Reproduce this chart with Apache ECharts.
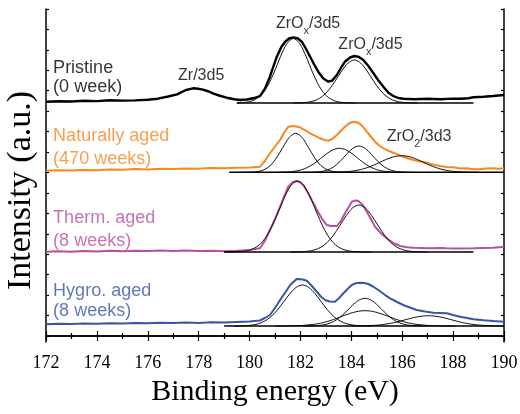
<!DOCTYPE html>
<html><head><meta charset="utf-8">
<script src="https://cdn.jsdelivr.net/npm/echarts@6/dist/echarts.min.js"></script>
<style>html,body{margin:0;padding:0;background:#fff}#c{width:520px;height:414px}</style>
</head><body><div id="c"></div>
<script>
// ---- X axis / Y ticks ----
const xMin = 172, xMax = 190, xStep = 2;
const yTicks = [0, 20.44, 40.88, 61.3, 81.8, 102.2, 122.6, 143.1, 163.5, 184, 204.4, 224.8, 245.3, 265.7, 286.2, 306.6, 327];

// ---- measured spectra [binding energy, intensity (a.u., stacked)] ----
const pristine = [[172.0,234.3],[172.5,234.8],[173.0,234.5],[173.5,235.2],[174.0,234.9],[174.5,235.8],[175.0,235.4],[175.5,235.6],[176.0,236.3],[176.4,237.3],[176.8,239.5],[177.15,241.7],[177.5,246],[177.78,247.7],[178.0,247.2],[178.17,246.3],[178.4,244.5],[178.56,242.7],[178.8,240.5],[179.1,238.3],[179.4,236.8],[179.62,236],[179.9,236.5],[180.14,237.7],[180.41,239.8],[180.6,247],[180.8,259.3],[181.07,279.3],[181.25,289],[181.4,294.3],[181.55,297.5],[181.72,298.7],[181.9,297.5],[182.05,294.3],[182.2,288],[182.38,279.3],[182.55,271],[182.7,264.3],[182.9,257.5],[183.1,254.3],[183.25,255.5],[183.43,261],[183.6,268.5],[183.75,274.3],[183.95,278.5],[184.12,280],[184.3,279],[184.47,276],[184.67,270],[184.87,262.7],[185.05,256],[185.26,249.3],[185.45,243.5],[185.65,240],[185.85,238],[186.04,237.3],[186.5,236.8],[187.0,237.2],[187.5,236.8],[188.0,237.4],[188.27,237.3],[188.6,237.8],[188.8,238.7],[189.2,239.2],[189.57,240],[190.0,241]];
const natural = [[172.0,165.3],[172.5,165.8],[173.0,165.4],[173.5,166.0],[174.0,165.7],[174.5,166.5],[175.0,166.2],[175.5,166.9],[176.0,166.6],[176.5,167.3],[177.0,167.0],[177.5,167.6],[178.0,167.3],[178.5,168.0],[179.0,167.7],[179.5,168.2],[180.0,168.6],[180.41,169.3],[180.6,175],[180.8,182.7],[181.0,189.5],[181.2,196],[181.35,203],[181.52,209.3],[181.72,210],[181.98,208.7],[182.2,205.5],[182.38,202.7],[182.6,199.8],[182.77,197.7],[182.95,196],[183.1,195.3],[183.25,197],[183.43,201],[183.6,205.5],[183.75,209.3],[183.9,212.5],[184.08,214.3],[184.28,213.3],[184.45,209.5],[184.61,204.3],[184.78,199],[184.93,194.3],[185.1,190.5],[185.26,187.7],[185.45,185.3],[185.65,183.3],[185.85,181.2],[186.04,179.3],[186.24,177.5],[186.44,176],[186.7,174.5],[186.96,173.3],[187.2,171.5],[187.49,170],[187.75,169],[188.01,168.7],[188.27,167.6],[188.54,167.7],[188.8,166.8],[189.06,166.7],[189.3,167.4],[189.58,167.7],[189.8,167.2],[190.0,167.7]];
const thermal = [[172.0,84.3],[172.5,84.8],[173.0,84.2],[173.5,85.0],[174.0,84.6],[174.5,85.2],[175.0,84.8],[175.5,85.3],[176.0,84.9],[176.5,85.5],[177.0,85.1],[177.5,85.4],[178.0,85.0],[178.5,85.3],[179.0,84.8],[179.5,85.2],[180.0,86],[180.41,87.7],[180.6,95],[180.8,106],[181.0,117],[181.2,129.3],[181.35,139],[181.52,149.3],[181.7,154],[181.85,155],[182.0,153.5],[182.11,151],[182.3,143],[182.51,132.7],[182.68,124.5],[182.84,117.7],[183.03,111],[183.2,110],[183.43,110],[183.6,115.5],[183.75,122.7],[183.9,129],[184.02,134.3],[184.15,135.5],[184.28,135],[184.45,131],[184.61,124.3],[184.78,116.5],[184.93,109.3],[185.15,103],[185.39,97.7],[185.65,93],[185.92,90],[186.2,88.8],[186.44,88.3],[187.0,87.8],[187.5,88.1],[187.75,87.7],[188.2,87.5],[188.8,87.7],[189.2,88.0],[189.58,88.3],[190.0,89.3]];
const hygro = [[172.0,11.7],[172.5,12.3],[173.0,11.9],[173.5,12.6],[174.0,12.2],[174.5,12.8],[175.0,12.4],[175.5,13.0],[176.0,12.7],[176.5,13.2],[177.0,12.9],[177.5,13.4],[178.0,13.1],[178.5,13.7],[179.0,13.5],[179.5,14.0],[180.0,14.5],[180.41,15.5],[180.6,18],[180.8,21],[181.0,28],[181.2,36],[181.4,43.5],[181.6,51],[181.85,57],[182.05,56.8],[182.25,55.3],[182.45,50],[182.64,44.3],[182.8,39.5],[182.97,36],[183.15,34.5],[183.36,34.3],[183.52,38],[183.69,42.7],[183.85,47],[184.02,51],[184.18,52.8],[184.34,53.3],[184.5,53],[184.67,52],[184.85,49.5],[185.06,46],[185.3,41.5],[185.52,37.7],[185.8,34],[186.04,31],[186.3,28.5],[186.57,26],[186.9,24.5],[187.22,23.3],[187.5,23],[187.75,22.7],[188.0,21],[188.27,19.3],[188.55,18],[188.8,16.7],[189.2,15.8],[189.58,15],[190.0,14.3]];

// ---- fit baselines: [start energy, end energy], level ----
const baseRange = [[179.5,188.8],[179.2,190],[179.0,188.8],[179.0,190]];
const baseLevel = [233, 163.7, 84, 10];

// ---- fitted components [energy, height above baseline] ----
const pC1 = [[179.5,0],[179.72,0.4],[179.97,1.2],[180.22,3.5],[180.47,8.5],[180.72,17.6],[180.97,31.0],[181.22,46.6],[181.47,59.5],[181.72,64.5],[181.97,59.5],[182.22,46.6],[182.47,31.0],[182.72,17.6],[182.97,8.5],[183.22,3.5],[183.47,1.2],[183.72,0.4],[184.2,0]];
const pC2 = [[181.7,0],[182.12,0.4],[182.37,1.1],[182.62,3.0],[182.87,6.8],[183.12,13.2],[183.37,22.1],[183.62,32.0],[183.87,39.9],[184.12,43],[184.37,39.9],[184.62,32.0],[184.87,22.1],[185.12,13.2],[185.37,6.8],[185.62,3.0],[185.87,1.1],[186.12,0.4],[186.6,0]];
const nC1 = [[179.6,0],[180.06,0.2],[180.31,0.7],[180.56,2.4],[180.81,6.6],[181.06,14.4],[181.31,25.0],[181.56,34.9],[181.81,39],[182.06,34.9],[182.31,25.0],[182.56,14.4],[182.81,6.6],[183.06,2.4],[183.31,0.7],[183.56,0.2],[184.0,0]];
const nC2 = [[181.1,0],[181.53,0.4],[181.78,1.1],[182.03,2.4],[182.28,4.9],[182.53,8.6],[182.78,13.5],[183.03,18.6],[183.28,22.5],[183.53,24],[183.78,22.5],[184.03,18.6],[184.28,13.5],[184.53,8.6],[184.78,4.9],[185.03,2.4],[185.28,1.1],[185.53,0.4],[186.0,0]];
const nC3 = [[182.1,0],[182.55,0.2],[182.8,0.7],[183.05,2.2],[183.3,5.3],[183.55,10.7],[183.8,17.6],[184.05,23.8],[184.3,26.3],[184.55,23.8],[184.8,17.6],[185.05,10.7],[185.3,5.3],[185.55,2.2],[185.8,0.7],[186.05,0.2],[186.5,0]];
const nC4 = [[183.0,0],[183.48,0.2],[183.98,1.0],[184.23,2.0],[184.48,3.5],[184.73,5.6],[184.98,8.3],[185.23,11.3],[185.48,14.0],[185.73,15.9],[185.98,16.6],[186.23,15.9],[186.48,14.0],[186.73,11.3],[186.98,8.3],[187.23,5.6],[187.48,3.5],[187.73,2.0],[187.98,1.0],[188.48,0.2],[189.0,0]];
const tC1 = [[179.0,0],[179.38,0.1],[179.63,0.4],[179.88,1.2],[180.13,3.1],[180.38,7.1],[180.63,14.4],[180.88,25.6],[181.13,40.0],[181.38,55.0],[181.63,66.6],[181.88,71],[182.13,66.6],[182.38,55.0],[182.63,40.0],[182.88,25.6],[183.13,14.4],[183.38,7.1],[183.63,3.1],[183.88,1.2],[184.13,0.4],[184.38,0.1],[184.8,0]];
const tC2 = [[181.6,0],[182.05,0.3],[182.3,0.8],[182.55,2.1],[182.8,4.7],[183.05,9.5],[183.3,16.9],[183.55,26.5],[183.8,36.4],[184.05,44.1],[184.3,47],[184.55,44.1],[184.8,36.4],[185.05,26.5],[185.3,16.9],[185.55,9.5],[185.8,4.7],[186.05,2.1],[186.3,0.8],[186.55,0.3],[187.0,0]];
const hC1 = [[179.4,0],[179.83,0.3],[180.08,0.9],[180.33,2.1],[180.58,4.7],[180.83,9.1],[181.08,15.6],[181.33,23.8],[181.58,32.2],[181.83,38.6],[182.08,41],[182.33,38.6],[182.58,32.2],[182.83,23.8],[183.08,15.6],[183.33,9.1],[183.58,4.7],[183.83,2.1],[184.08,0.9],[184.33,0.3],[184.8,0]];
const hC2 = [[182.1,0],[182.54,0.2],[182.79,0.7],[183.04,1.9],[183.29,4.3],[183.54,8.5],[183.79,14.2],[184.04,20.6],[184.29,25.7],[184.54,27.7],[184.79,25.7],[185.04,20.6],[185.29,14.2],[185.54,8.5],[185.79,4.3],[186.04,1.9],[186.29,0.7],[186.54,0.2],[187.0,0]];
const hC3 = [[181.0,0],[181.54,0.1],[182.04,0.5],[182.54,1.7],[182.79,2.8],[183.04,4.4],[183.29,6.4],[183.54,8.8],[183.79,11.2],[184.04,13.3],[184.29,14.8],[184.54,15.3],[184.79,14.8],[185.04,13.3],[185.29,11.2],[185.54,8.8],[185.79,6.4],[186.04,4.4],[186.29,2.8],[186.54,1.7],[187.04,0.5],[187.54,0.1],[188.1,0]];
const hC4 = [[184.0,0],[184.53,0.2],[185.03,0.9],[185.28,1.6],[185.53,2.6],[185.78,3.9],[186.03,5.6],[186.28,7.3],[186.53,8.8],[186.78,9.9],[187.03,10.3],[187.28,9.9],[187.53,8.8],[187.78,7.3],[188.03,5.6],[188.28,3.9],[188.53,2.6],[188.78,1.6],[189.03,0.9],[189.53,0.2],[190.0,0]];

// ---- annotations ----
const annoText = ['Pristine','(0 week)','Naturally aged','(470 weeks)','Therm. aged','(8 weeks)','Hygro. aged','(8 weeks)',
  '{a|Zr/3d5}','{a|ZrO}{s|x}{a|/3d5}','{a|ZrO}{s|x}{a|/3d5}','{a|ZrO}{s|2}{a|/3d3}'];
const annoE = [172.28,172.28,172.28,172.28,172.28,172.28,172.28,172.28,177.19,181.04,183.49,185.39];
const annoV = [268.4,249,200.2,176.8,117.8,95.2,45.2,24.5,260,312.2,291.3,199.7];

const sampleColors = ['#000000','#F7871F','#B8509E','#3A55A6'];
const annoColor = [0,0,1,1,2,2,3,3,0,0,0,0].map(i => sampleColors[i]);

const spectra = [pristine, natural, thermal, hygro];
const comps = [[pC1,pC2],[nC1,nC2,nC3,nC4],[tC1,tC2],[hC1,hC2,hC3,hC4]];

const series = [];
comps.forEach((list, k) => {
  list.forEach(c => series.push({
    type:'line', data: c.map(p => [p[0], p[1] + baseLevel[k]]), smooth: 0.3,
    symbol:'none', lineStyle:{color:'#111', width:1}, z:3, silent:true
  }));
  series.push({
    type:'line', data: [[baseRange[k][0], baseLevel[k]],[baseRange[k][1], baseLevel[k]]],
    symbol:'none', lineStyle:{color:'#000', width:1.6}, z:3, silent:true
  });
});
spectra.forEach((s, k) => series.push({
  type:'line', data: s, symbol:'none', z:2, silent:true,
  lineStyle:{color: sampleColors[k], width: k === 0 ? 2.4 : 2}
}));
series.push({
  type:'scatter', symbolSize:0, silent:true, z:5,
  data: annoText.map((t, i) => ({value:[annoE[i], annoV[i]], label:{color: annoColor[i], formatter: t}})),
  label:{show:true, position:'right', distance:0, fontFamily:'Liberation Sans', fontSize:18,
    rich:{a:{fontFamily:'Liberation Sans', fontSize:16, color:'#000', lineHeight:26},
          s:{fontFamily:'Liberation Sans', fontSize:11, color:'#000', verticalAlign:'bottom', lineHeight:26}}}
});

const axisLineStyle = {lineStyle:{color:'#000', width:1.5}};
const chart = echarts.init(document.getElementById('c'), null, {renderer:'canvas'});
chart.setOption({
  animation:false,
  backgroundColor:'#fff',
  grid:{left:46, right:16, top:9, bottom:72, outerBoundsMode:'none', containLabel:false},
  xAxis:[{
    type:'value', min:xMin, max:xMax, interval:xStep, position:'bottom',
    axisLine:axisLineStyle, splitLine:{show:false},
    axisTick:{inside:true, length:5, lineStyle:{color:'#000', width:1.2}},
    minorTick:{show:true, splitNumber:2, length:3, lineStyle:{color:'#000', width:1.2}},
    axisLabel:{color:'#000', fontFamily:'Liberation Serif', fontSize:18, margin:12, showMinLabel:true, showMaxLabel:true},
    name:'Binding energy (eV)', nameLocation:'middle', nameGap:31,
    nameTextStyle:{color:'#000', fontFamily:'Liberation Serif', fontSize:30}
  },{
    type:'value', min:xMin, max:xMax, interval:xStep, position:'top',
    axisLine:axisLineStyle, splitLine:{show:false}, axisLabel:{show:false},
    axisTick:{inside:true, length:5, lineStyle:{color:'#000', width:1.2}},
    minorTick:{show:true, splitNumber:2, length:3, lineStyle:{color:'#000', width:1.2}}
  }],
  yAxis:[{
    type:'value', min:-6, max:327, position:'left',
    axisLine:axisLineStyle, splitLine:{show:false}, axisLabel:{show:false},
    axisTick:{inside:true, length:3, customValues:yTicks, lineStyle:{color:'#000', width:1.2}},
    name:'Intensity (a.u.)', nameLocation:'middle', nameGap:8,
    nameTextStyle:{color:'#000', fontFamily:'Liberation Serif', fontSize:34, padding:[0,30,0,0]}
  },{
    type:'value', min:-6, max:327, position:'right',
    axisLine:axisLineStyle, splitLine:{show:false}, axisLabel:{show:false},
    axisTick:{inside:true, length:3, customValues:yTicks, lineStyle:{color:'#000', width:1.2}}
  }],
  series: series
});
</script></body></html>
